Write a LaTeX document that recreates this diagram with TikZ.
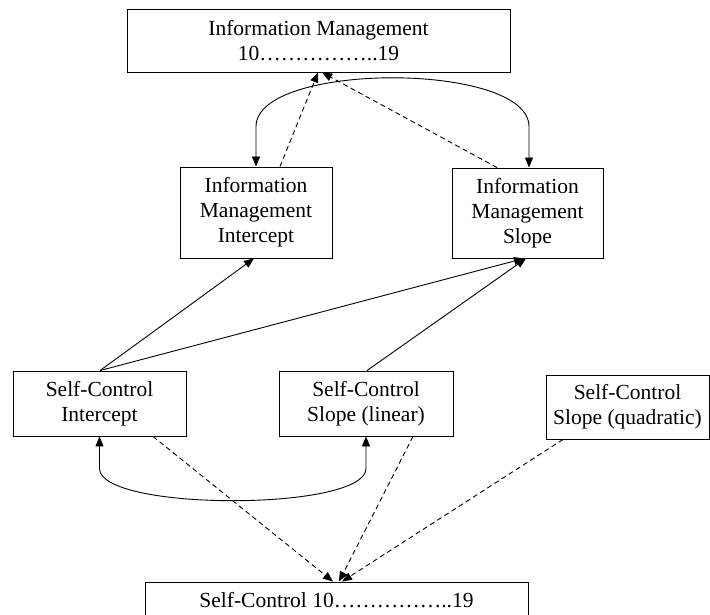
\documentclass[tikz,border=0pt]{standalone}
\usepackage{fontspec}
\setmainfont{Liberation Serif}
\usetikzlibrary{arrows.meta,calc}

\tikzset{
  box/.style={draw, line width=0.9pt, inner sep=0pt, align=center,
              font=\fontsize{21.5pt}{25pt}\selectfont},
  path/.style={line width=0.9pt, -{Triangle[length=10pt,width=8pt]}},
  load/.style={path},
  resid/.style={path, dash pattern=on 5pt off 3.5pt},
  cov/.style={line width=0.9pt, {Triangle[length=10pt,width=8pt]}-{Triangle[length=10pt,width=8pt]}}
}

\begin{document}
\begin{tikzpicture}[x=1pt,y=-1pt]
  \useasboundingbox (0,0) rectangle (710,615);

  % outcome blocks
  \node[box, minimum width=383pt, minimum height=63pt] (im) at (318.5,40.5)
    {Information Management\\10……………..19};
  \node[box, minimum width=383pt, minimum height=36pt] (sc) at (336.5,600)
    {Self-Control 10……………..19};

  % growth factors
  \node[box, minimum width=152pt, minimum height=91pt] (imi) at (256,212.5)
    {Information\\Management\\Intercept};
  \node[box, minimum width=151pt, minimum height=90pt] (ims) at (527.5,213)
    {Information\\Management\\Slope};
  \node[box, minimum width=173pt, minimum height=65pt] (sci) at (99.5,403.5)
    {Self-Control\\Intercept};
  \node[box, minimum width=174pt, minimum height=65pt] (scl) at (366,403.5)
    {Self-Control\\Slope (linear)};
  \node[box, minimum width=163pt, minimum height=64pt] (scq) at (627.5,407)
    {Self-Control\\Slope (quadratic)};

  % information management factors to their indicators
  \draw[resid] ($(imi.north)+(24,0)$) -- ($(im.south)+(-0.5,0)$);
  \draw[resid] ($(ims.north)+(-30.5,0)$) -- ($(im.south)+(3.5,0)$);

  % covariance between information management factors
  \draw[cov] (imi.north) -- ($(imi.north)+(0,-40)$)
    .. controls ($(imi.north)+(0,-105)$) and ($(ims.north)+(1.5,-106)$)
    .. ($(ims.north)+(1.5,-41)$) -- ($(ims.north)+(1.5,0)$);

  % structural paths
  \draw[load] ($(sci.north)+(0.5,0)$) -- ($(imi.south)+(-2,0)$);
  \draw[load] ($(sci.north)+(0.5,0)$) -- ($(ims.south)+(-3.5,0)$);
  \draw[load] ($(scl.north)+(1,0)$) -- ($(ims.south)+(-1.5,0)$);

  % covariance between self-control intercept and linear slope
  \draw[cov] (sci.south) -- ($(sci.south)+(0,32)$)
    .. controls ($(sci.south)+(0,75)$) and ($(scl.south)+(0,75)$)
    .. ($(scl.south)+(0,32)$) -- (scl.south);

  % self-control factors to their indicators
  \draw[resid] ($(sci.south)+(53.5,0)$) -- ($(sc.north)+(-3.5,0)$);
  \draw[resid] ($(scl.south)+(47,0)$) -- ($(sc.north)+(2.5,0)$);
  \draw[resid] ($(scq.south)+(-64.5,0)$) -- ($(sc.north)+(5.5,0)$);
\end{tikzpicture}
\end{document}
